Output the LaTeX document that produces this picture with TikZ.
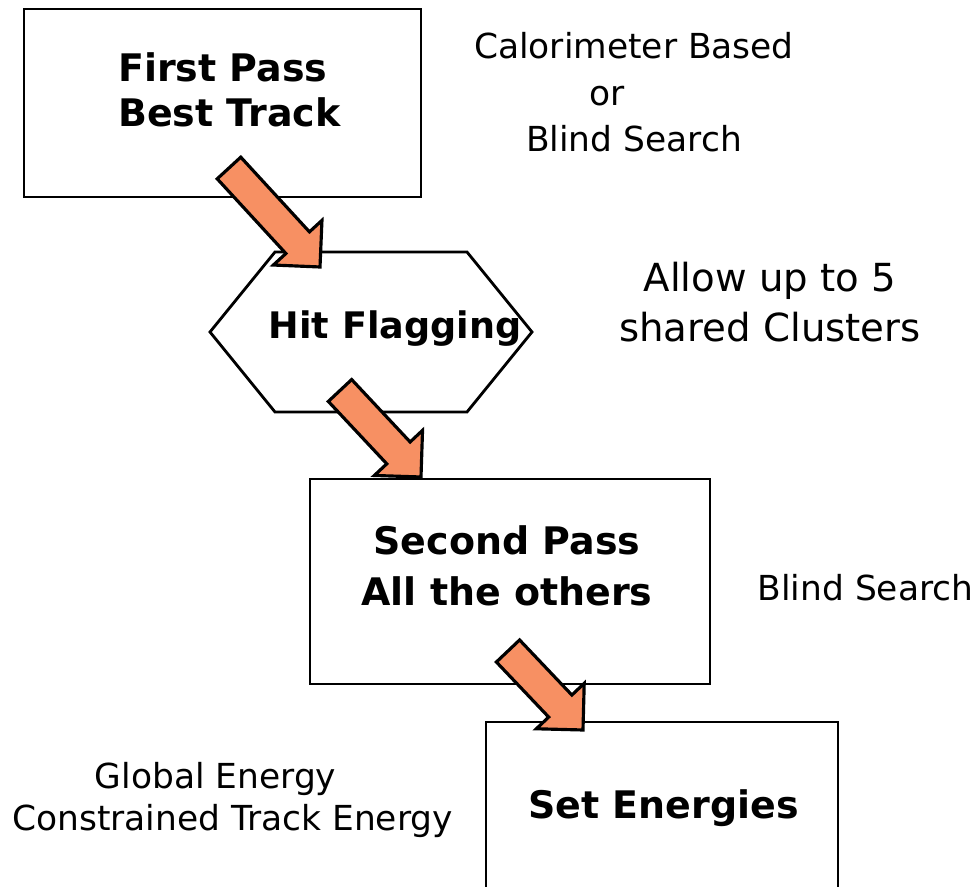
\documentclass[tikz,border=0pt]{standalone}
\usepackage{fontspec}
\setmainfont{DejaVu Sans}
\usepackage{tikz}
\usetikzlibrary{calc,positioning}

\definecolor{arrowfill}{RGB}{247,144,99}

% fat block arrow from #1 (tail middle) to #2 (tip)
\newcommand{\fatarrow}[2]{%
  \coordinate (neck) at ($(#2)!0.33cm!(#1)$);
  \draw[fatarr] ($(#1)!0.16cm!90:(#2)$) -- ($(neck)!0.16cm!90:(#2)$)
    -- ($(neck)!0.33cm!90:(#2)$) -- (#2) -- ($(neck)!0.33cm!-90:(#2)$)
    -- ($(neck)!0.16cm!-90:(#2)$) -- ($(#1)!0.16cm!-90:(#2)$) -- cycle;}

\begin{document}
\begin{tikzpicture}[passbox/.style={draw, line width=0.8pt, inner sep=0pt},
  boldtxt/.style={font=\fontsize{10.8}{14.5}\selectfont\bfseries, align=center, inner sep=0pt},
  notetxt/.style={font=\fontsize{9.8}{13.2}\selectfont, align=center, inner sep=0pt},
  fatarr/.style={draw, line width=0.9pt, fill=arrowfill, line join=miter}]
\useasboundingbox (0,0) rectangle (9.78,-8.87);

% boxes
\node[passbox, minimum width=3.97cm, minimum height=1.88cm] (first) at (2.225,-1.03) {};
\node[boldtxt, align=left, font=\fontsize{10.8}{12.8}\selectfont\bfseries] (firsttxt) at (2.295,-0.90) {First Pass\\Best Track};

\coordinate (hw) at (2.10,-3.32);
\coordinate (hnw) at (2.75,-2.52);
\coordinate (hne) at (4.67,-2.52);
\coordinate (he) at (5.32,-3.32);
\coordinate (hse) at (4.67,-4.12);
\coordinate (hsw) at (2.75,-4.12);
\draw[line width=0.8pt] (hw) -- (hnw) -- (hne) -- (he) -- (hse) -- (hsw) -- cycle;
\node[boldtxt, font=\fontsize{10.4}{14}\selectfont\bfseries] (flagtxt) at (3.95,-3.285) {Hit Flagging};

\node[passbox, minimum width=4.00cm, minimum height=2.05cm] (second) at (5.10,-5.815) {};
\node[boldtxt] (secondtxt) at (5.07,-5.655) {Second Pass\\All the others};

\node[passbox, minimum width=3.52cm, minimum height=2.38cm] (energy) at (6.62,-8.41) {};
\node[boldtxt] (energytxt) at (6.635,-8.08) {Set Energies};

% notes
\node[notetxt] (calonote) at (6.34,-0.925) {Calorimeter Based\\or\rule{0.54cm}{0pt}\\Blind Search};
\node[notetxt, font=\fontsize{11}{14.2}\selectfont] (allownote) at (7.70,-3.025) {Allow up to 5\\shared Clusters};
\node[notetxt] (blindnote) at (8.655,-5.875) {Blind Search};
\node[notetxt, font=\fontsize{9.8}{11.7}\selectfont] (globalnote) at (2.325,-8.0) {Global Energy\rule{0.34cm}{0pt}\\Constrained Track Energy};

% arrows
\coordinate (a1s) at (2.29,-1.68);
\coordinate (a1e) at (3.20,-2.67);
\coordinate (a2s) at (3.40,-3.905);
\coordinate (a2e) at (4.21,-4.77);
\coordinate (a3s) at (5.08,-6.51);
\coordinate (a3e) at (5.83,-7.30);
\fatarrow{a1s}{a1e}
\fatarrow{a2s}{a2e}
\fatarrow{a3s}{a3e}

\end{tikzpicture}
\end{document}
